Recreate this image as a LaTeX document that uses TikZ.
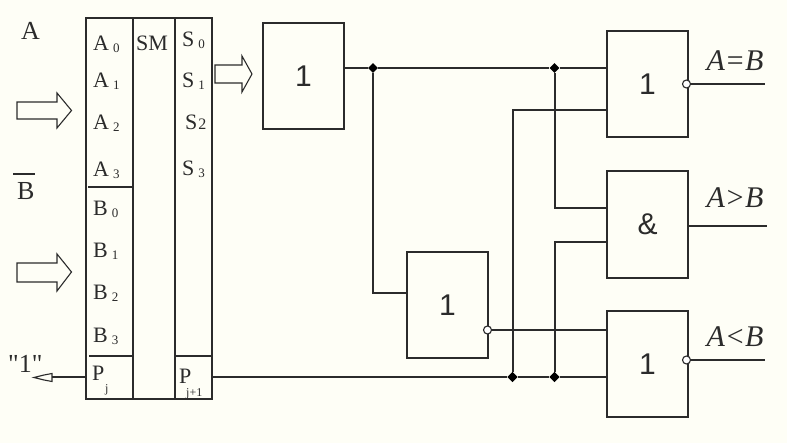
\documentclass[tikz,border=0pt]{standalone}
\usepackage{fontspec}
\setmainfont{Liberation Serif}
\newfontfamily\rawserif{Liberation Serif}
\newfontfamily\gatefont{Liberation Sans}
\usetikzlibrary{calc,shapes.geometric}
\definecolor{paper}{HTML}{FEFEF6}
\definecolor{ink}{HTML}{2B2B2B}
\tikzset{
  wire/.style={draw=ink,line width=2pt},
  col/.style={draw=ink,line width=2pt,rectangle,inner sep=0pt,anchor=north west},
  gate/.style={draw=ink,line width=2pt,rectangle,inner sep=0pt,minimum width=81pt,minimum height=106pt,anchor=north west,font=\gatefont\fontsize{30}{30}\selectfont,text=ink},
  lbl/.style={inner sep=0pt,anchor=base west,text=ink,font=\fontsize{22}{22}\selectfont},
  tiny/.style={inner sep=0pt,anchor=base west,text=ink,font=\fontsize{12}{12}\selectfont},
  big/.style={inner sep=0pt,anchor=base west,text=ink,font=\fontsize{26}{26}\selectfont},
  outlbl/.style={inner sep=0pt,anchor=base,text=ink,font=\itshape\fontsize{30}{30}\selectfont},
  dot/.style={diamond,fill=black,inner sep=0pt,minimum size=10.5pt},
  bubble/.style={circle,draw=ink,fill=white,line width=1.1pt,inner sep=0pt,minimum size=8pt},
  hollow/.style={draw=ink,line width=1.1pt,fill=none},
}
\newcommand{\subs}[1]{\hspace{4pt}{\fontsize{13}{13}\selectfont\raisebox{-2pt}{#1}}}
\begin{document}
\begin{tikzpicture}[x=1pt,y=-1pt]
\useasboundingbox (0,0) rectangle (787,443);
\fill[paper] (0,0) rectangle (787,443);
% adder columns
\node[col,minimum width=46.5pt,minimum height=381pt] (cA) at (85,17) {};
\node[col,minimum width=42pt,minimum height=381pt] (cM) at (131.5,17) {};
\node[col,minimum width=37.5pt,minimum height=381pt] (cS) at (173.5,17) {};
\coordinate (d1) at (88,187);
\coordinate (d2) at (89,356);
\coordinate (d3) at (174,356);
\draw[wire] (d1) -- (d1 -| cA.east);
\draw[wire] (d2) -- (d2 -| cA.east);
\draw[wire] (d3) -- (d3 -| cS.east);
% left labels
\node[big] (tA) at (21,40) {A};
\node[big] (tB) at (17,200) {B};
\coordinate (ob) at (13,174.5);
\draw[wire] (ob) -- ++(22,0);
\node[big] (tone) at (8,373) {\rawserif "1"};
\node[lbl] (a0) at (93,51) {A\subs{0}};
\node[lbl] (a1) at (93,88) {A\subs{1}};
\node[lbl] (a2) at (93,130) {A\subs{2}};
\node[lbl] (a3) at (93,177) {A\subs{3}};
\node[lbl] (b0) at (93,216) {B\subs{0}};
\node[lbl] (b1) at (93,258) {B\subs{1}};
\node[lbl] (b2) at (93,300) {B\subs{2}};
\node[lbl] (b3) at (93,343) {B\subs{3}};
\node[lbl] (pj) at (92,381) {P};
\node[tiny] (pjs) at (105,392) {j};
\node[lbl] (sm) at (136,51) {SM};
\node[lbl] (s0) at (182,46.5) {S\subs{0}};
\node[lbl] (s1) at (182,88) {S\subs{1}};
\node[lbl] (s2) at (185,130) {S\hspace{1pt}{\fontsize{16}{16}\selectfont 2}};
\node[lbl] (s3) at (182,176) {S\subs{3}};
\node[lbl] (pj1) at (179,384) {P};
\node[tiny] (pj1s) at (186,396.5) {j+1};
% block arrows
\draw[hollow] (17,102) -- (57,102) -- (57,93) -- (71.5,110.5) -- (57,128) -- (57,119) -- (17,119) -- cycle;
\draw[hollow] (17,263) -- (57,263) -- (57,254) -- (71.5,272) -- (57,291) -- (57,282) -- (17,282) -- cycle;
\draw[hollow] (215,65) -- (242,65) -- (242,56) -- (252,74) -- (242,92) -- (242,83) -- (215,83) -- cycle;
% gates
\node[gate] (g1) at (262,22) {1\hspace{5pt}};
\node[gate] (g2) at (406,251) {1\hspace{4pt}};
\node[gate] (gE) at (606,30) {1\hspace{6pt}};
\node[gate,minimum height=107pt] (gG) at (606,170) {\&};
\node[gate] (gL) at (606,310) {1\hspace{4pt}};
% junctions
\node[dot,minimum size=10pt] (j1) at (373,68) {};
\node[dot,minimum size=10pt] (j2) at (554.5,68) {};
\node[dot] (j3) at (512.5,377) {};
\node[dot] (j4) at (554.5,377) {};
\coordinate (k1) at (373,293);
\coordinate (k2) at (554.5,208);
\coordinate (k3) at (512.5,110);
\coordinate (k4) at (554.5,242);
\coordinate (k5) at (487.5,330);
% wires
\draw[wire] (j1 -| g1.east) -- (j1) -- (j2) -- (j2 -| gE.west);
\draw[wire] (j1) -- (k1) -- (k1 -| g2.west);
\draw[wire] (j2) -- (k2) -- (k2 -| gG.west);
\draw[wire] (j3) -- (k3) -- (k3 -| gE.west);
\draw[wire] (j4) -- (k4) -- (k4 -| gG.west);
\draw[wire] (j3 -| cS.east) -- (j3) -- (j4) -- (j4 -| gL.west);
\draw[wire] (k5) -- (k5 -| gL.west);
\coordinate (w) at (85,377);
\draw[wire] (w) -- (52,377);
\node[bubble] (n2) at (k5) {};
\draw[hollow] (52,373.5) -- (52,381.5) -- (44,380) -- (34,377.5) -- (44,375) -- cycle;
% outputs
\node[bubble] (nE) at (686.5,84) {};
\node[bubble] (nL) at (686.5,360) {};
\coordinate (oE) at (765,84);
\coordinate (oG) at (767,226);
\coordinate (oL) at (765,360);
\draw[wire] (nE) -- (oE);
\draw[wire] (oG -| gG.east) -- (oG);
\draw[wire] (nL) -- (oL);
\node[outlbl] (tE) at (735,71) {A=B};
\node[outlbl] (tG) at (735,208) {A>B};
\node[outlbl] (tL) at (735,347) {A<B};
\end{tikzpicture}
\end{document}
